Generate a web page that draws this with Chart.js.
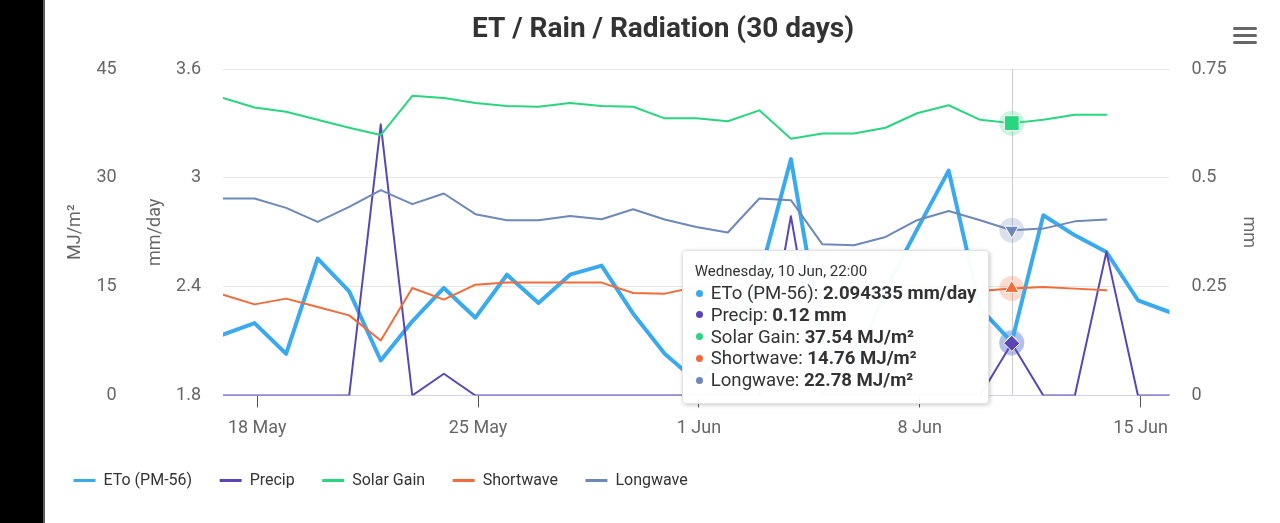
<!DOCTYPE html>
<html>
<head>
<meta charset="utf-8">
<title>ET / Rain / Radiation (30 days)</title>
<script src="https://cdn.jsdelivr.net/npm/chart.js@4.4.1/dist/chart.umd.min.js"></script>
<style>
  html, body { margin: 0; padding: 0; background: #fff; }
  body { width: 1280px; height: 523px; position: relative; overflow: hidden; font-family: Roboto, sans-serif; }
  #edge { position: absolute; left: 0; top: 0; width: 43px; height: 523px; background: #000; border-right: 2px solid #5c5c5c; }
  #wrap { position: absolute; left: 46px; top: 0; width: 1234px; height: 523px; }
  #menu { position: absolute; left: 1233px; top: 27px; width: 24px; }
  #menu span { display: block; height: 3px; margin-bottom: 4px; background: #666; border-radius: 2px; }
  #tip {
    position: absolute; opacity: 0; pointer-events: none; white-space: nowrap;
    background: rgba(255, 255, 255, 0.97); border: 1px solid #e3e3e3; border-radius: 4px;
    box-shadow: 1px 1px 4px rgba(0, 0, 0, 0.22);
    padding: 11px 12px 11px 12px; color: #333;
  }
  #tip .hd { font-size: 15px; line-height: 19px; margin-bottom: 2px; }
  #tip .row { font-size: 18.6px; line-height: 21.8px; }
  #tip .row i { display: inline-block; width: 7px; height: 7px; border-radius: 50%; margin: 0 8px 2px 1px; vertical-align: middle; }
  #tip .row b { font-weight: 700; }
</style>
</head>
<body>
<div id="edge"></div>
<div id="wrap">
  <canvas id="chart-et"></canvas>
  <div id="tip"></div>
</div>
<div id="menu"><span></span><span></span><span></span></div>
<script>
// daily readings, taken at 22:00
const dates = [
  '2020-05-16', '2020-05-17', '2020-05-18', '2020-05-19', '2020-05-20', '2020-05-21', '2020-05-22', '2020-05-23',
  '2020-05-24', '2020-05-25', '2020-05-26', '2020-05-27', '2020-05-28', '2020-05-29', '2020-05-30', '2020-05-31',
  '2020-06-01', '2020-06-02', '2020-06-03', '2020-06-04', '2020-06-05', '2020-06-06', '2020-06-07', '2020-06-08',
  '2020-06-09', '2020-06-10', '2020-06-11', '2020-06-12', '2020-06-13', '2020-06-14', '2020-06-15',
];
const etoMmDay = [2.135, 2.199, 2.03, 2.555, 2.374, 1.993, 2.209, 2.393, 2.229, 2.466, 2.31, 2.466, 2.516, 2.251, 2.03, 1.88,
  2.05, 2.45, 3.103, 2.094, 1.95, 2.385, 2.716, 3.04, 2.28, 2.094335, 2.794, 2.683, 2.591, 2.325, 2.26];
const precipMm = [0, 0, 0, 0, 0, 0.623, 0, 0.05, 0, 0, 0, 0, 0, 0, 0, 0,
  0, 0, 0.412, 0, 0, 0, 0, 0, 0, 0.12, 0, 0, 0.33, 0, 0];
const solarGain = [41.0, 39.7, 39.1, 38.0, 36.9, 35.9, 41.3, 41.0, 40.3, 39.9, 39.8, 40.3, 39.9, 39.8, 38.2, 38.2,
  37.8, 39.3, 35.4, 36.1, 36.1, 36.9, 38.9, 40.0, 38.0, 37.54, 38.0, 38.7, 38.7];
const shortwave = [13.9, 12.56, 13.35, 12.19, 11.04, 7.59, 14.81, 13.21, 15.28, 15.56, 15.56, 15.56, 15.56, 14.12, 14.04, 14.94,
  15.1, 15.4, 14.6, 14.2, 14.5, 15.0, 15.2, 14.8, 14.4, 14.76, 14.95, 14.73, 14.5];
const longwave = [27.15, 27.15, 25.86, 23.92, 26.0, 28.3, 26.37, 27.84, 24.99, 24.16, 24.16, 24.75, 24.3, 25.68, 24.25, 23.23,
  22.46, 27.15, 26.92, 20.84, 20.7, 21.85, 24.16, 25.44, 24.16, 22.78, 23.0, 24.0, 24.25];

const tickDays = ['2020-05-18', '2020-05-25', '2020-06-01', '2020-06-08', '2020-06-15'];
const tickLabels = ['18 May', '25 May', '1 Jun', '8 Jun', '15 Jun'];
const mjTicks = [0, 15, 30, 45];
const etTicks = [1.8, 2.4, 3, 3.6];
const mmTicks = [0, 0.25, 0.5, 0.75];
const hoverIndex = 25;

const DAYS = ['Sunday', 'Monday', 'Tuesday', 'Wednesday', 'Thursday', 'Friday', 'Saturday'];
const MONTHS = ['Jan', 'Feb', 'Mar', 'Apr', 'May', 'Jun', 'Jul', 'Aug', 'Sep', 'Oct', 'Nov', 'Dec'];

const SERIES = [
  { label: 'ETo (PM-56)', values: etoMmDay, axis: 'yEt', unit: 'mm/day', color: '#3aa9ee', width: 4, style: 'circle', r: 5.5 },
  { label: 'Precip', values: precipMm, axis: 'yMm', unit: 'mm', color: '#5b45b6', width: 2, style: 'rectRot', r: 8 },
  { label: 'Solar Gain', values: solarGain, axis: 'yMj', unit: 'MJ/m²', color: '#29d67f', width: 2, style: 'rect', r: 10.5 },
  { label: 'Shortwave', values: shortwave, axis: 'yMj', unit: 'MJ/m²', color: '#f26b3a', width: 2, style: 'triangle', r: 8 },
  { label: 'Longwave', values: longwave, axis: 'yMj', unit: 'MJ/m²', color: '#6d88b9', width: 2, style: 'triangle', r: 8, rot: 180 },
];

const at22 = d => Date.parse(d + 'T22:00:00Z');
const atMidnight = d => Date.parse(d + 'T00:00:00Z');
const tickTimes = tickDays.map(atMidnight);

function fmtHeader(ms) {
  const d = new Date(ms);
  const hh = String(d.getUTCHours()).padStart(2, '0');
  return `${DAYS[d.getUTCDay()]}, ${d.getUTCDate()} ${MONTHS[d.getUTCMonth()]}, ${hh}:00`;
}

function externalTooltip({ chart, tooltip }) {
  const el = document.getElementById('tip');
  if (tooltip.opacity === 0 || !tooltip.dataPoints) { el.style.opacity = 0; return; }
  const pts = tooltip.dataPoints.slice().sort((a, b) => a.datasetIndex - b.datasetIndex);
  let html = `<div class="hd">${fmtHeader(pts[0].parsed.x)}</div>`;
  pts.forEach(p => {
    const s = SERIES[p.datasetIndex];
    html += `<div class="row"><i style="background:${s.color}"></i>${s.label}: <b>${p.raw.y} ${s.unit}</b></div>`;
  });
  el.innerHTML = html;
  el.style.opacity = 1;
  el.style.left = (tooltip.caretX - 22 - el.offsetWidth) + 'px';
  el.style.top = (chart.chartArea.top + 181) + 'px';
}

// crosshair + halos under the hovered points
const hoverDecor = {
  id: 'hoverDecor',
  beforeDatasetsDraw(chart) {
    const active = chart.getActiveElements();
    if (!active.length) return;
    const { ctx, chartArea } = chart;
    const x = Math.round(active[0].element.x) + 0.5;
    ctx.save();
    ctx.strokeStyle = '#cccccc';
    ctx.lineWidth = 1;
    ctx.beginPath();
    ctx.moveTo(x, chartArea.top);
    ctx.lineTo(x, chartArea.bottom);
    ctx.stroke();
    active.forEach(a => {
      ctx.globalAlpha = 0.25;
      ctx.fillStyle = SERIES[a.datasetIndex].color;
      ctx.beginPath();
      ctx.arc(a.element.x, a.element.y, 12.5, 0, Math.PI * 2);
      ctx.fill();
    });
    ctx.restore();
  },
};

Chart.defaults.font.family = 'Roboto';
Chart.defaults.color = '#666';

const fixWidth = w => scale => { scale.width = w; };
const setTicks = list => scale => { scale.ticks = list.map(v => ({ value: v })); };
const fmtNum = v => String(Number(v.toFixed(2)));

const datasets = SERIES.map((s, i) => ({
  label: s.label,
  data: s.values.map((v, j) => ({ x: at22(dates[j]), y: v })),
  yAxisID: s.axis,
  borderColor: s.color,
  backgroundColor: s.color,
  borderWidth: s.width,
  borderJoinStyle: 'round',
  borderCapStyle: 'round',
  tension: 0,
  pointRadius: 0,
  pointStyle: s.style,
  pointRotation: s.rot || 0,
  pointHoverRadius: s.r,
  pointHoverBackgroundColor: s.color,
  pointHoverBorderColor: '#ffffff',
  pointHoverBorderWidth: 1,
  order: SERIES.length - i,
}));

const chart = new Chart(document.getElementById('chart-et'), {
  type: 'line',
  data: { datasets },
  plugins: [hoverDecor],
  options: {
    responsive: true,
    maintainAspectRatio: false,
    animation: false,
    layout: { padding: { bottom: 24.5 } },
    interaction: { mode: 'index', intersect: false },
    plugins: {
      title: {
        display: true,
        text: 'ET / Rain / Radiation (30 days)',
        color: '#333',
        font: { size: 28, weight: 'bold' },
        padding: { top: 13.2, bottom: 22.2 },
      },
      legend: {
        position: 'bottom',
        align: 'start',
        labels: {
          color: '#333',
          font: { size: 16 },
          boxWidth: 22,
          boxHeight: 3,
          padding: 27.5,
          sort: (a, b) => a.datasetIndex - b.datasetIndex,
          generateLabels: c => Chart.defaults.plugins.legend.labels.generateLabels(c)
            .map(l => ({ ...l, fillStyle: l.strokeStyle, lineWidth: 0 })),
        },
      },
      tooltip: { enabled: false, external: externalTooltip },
    },
    scales: {
      x: {
        type: 'linear',
        min: at22(dates[0]),
        max: at22(dates[dates.length - 1]),
        afterBuildTicks: setTicks(tickTimes),
        afterFit: scale => { scale.height = 49.5; },
        grid: { display: true, drawOnChartArea: false, drawTicks: true, tickLength: 12, tickColor: '#555' },
        border: { display: true, color: '#ccd6eb' },
        ticks: {
          autoSkip: false,
          maxRotation: 0,
          padding: 10.5,
          font: { size: 18 },
          callback: v => tickLabels[tickTimes.indexOf(v)] ?? '',
        },
      },
      yMj: {
        position: 'left',
        weight: 2,
        min: 0,
        max: 45,
        afterBuildTicks: setTicks(mjTicks),
        afterFit: fixWidth(82),
        grid: { display: false, drawTicks: false },
        border: { display: false },
        ticks: { padding: 11.3, font: { size: 18 }, callback: fmtNum },
        title: { display: true, text: 'MJ/m²', font: { size: 18 }, padding: { top: 18.2, bottom: 0 } },
      },
      yEt: {
        position: 'left',
        weight: 1,
        min: 1.8,
        max: 3.6,
        afterBuildTicks: setTicks(etTicks),
        afterFit: fixWidth(95),
        grid: { color: '#e6e6e6', drawTicks: false },
        border: { display: false },
        ticks: { padding: 22, font: { size: 18 }, callback: fmtNum },
        title: { display: true, text: 'mm/day', font: { size: 18 }, padding: { top: 16.2, bottom: 0 } },
      },
      yMm: {
        position: 'right',
        min: 0,
        max: 0.75,
        afterBuildTicks: setTicks(mmTicks),
        afterFit: fixWidth(110.5),
        grid: { display: false, drawTicks: false },
        border: { display: false },
        ticks: { padding: 22, font: { size: 18 }, callback: fmtNum },
        title: { display: true, text: 'mm', font: { size: 18 }, padding: { top: 20.9, bottom: 0 } },
      },
    },
  },
});

const active = SERIES.map((s, i) => ({ datasetIndex: i, index: hoverIndex }));
chart.setActiveElements(active);
chart.tooltip.setActiveElements(active, { x: 0, y: 0 });
chart.update();
</script>
</body>
</html>
